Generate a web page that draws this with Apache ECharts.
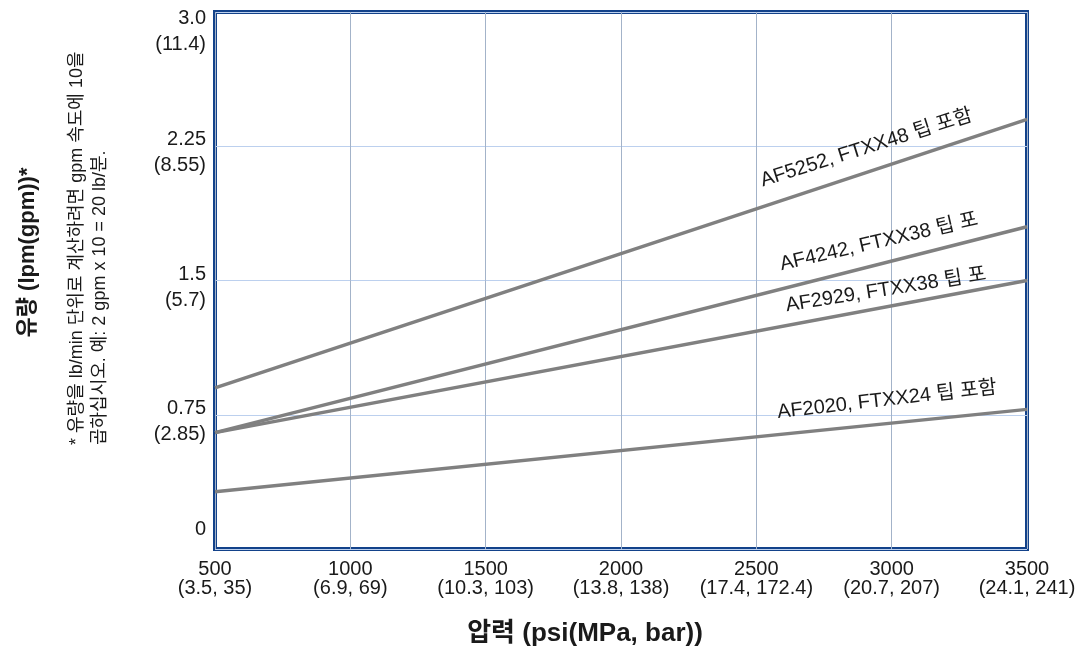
<!DOCTYPE html>
<html>
<head>
<meta charset="utf-8">
<script src="https://cdn.jsdelivr.net/npm/echarts@6/dist/echarts.min.js"></script>
<style>
html,body{margin:0;padding:0;background:#fff;}
#chart{width:1076px;height:652px;}
</style>
</head>
<body>
<div id="chart"></div>
<script>
// ---- data ----
const pressurePsi = [500, 3500];
const seriesNames = ['AF5252, FTXX48 팁 포함', 'AF4242, FTXX38 팁 포', 'AF2929, FTXX38 팁 포', 'AF2020, FTXX24 팁 포함'];
const af5252 = [0.90, 2.40];
const af4242 = [0.65, 1.80];
const af2929 = [0.65, 1.50];
const af2020 = [0.32, 0.78];
const xTickValues = [500, 1000, 1500, 2000, 2500, 3000, 3500];
const xTickSub = ['(3.5, 35)', '(6.9, 69)', '(10.3, 103)', '(13.8, 138)', '(17.4, 172.4)', '(20.7, 207)', '(24.1, 241)'];
const yTickValues = [0, 0.75, 1.5, 2.25, 3.0];
const yTickMain = ['0', '0.75', '1.5', '2.25', '3.0'];
const yTickSub = ['', '(2.85)', '(5.7)', '(8.55)', '(11.4)'];
const xTitle = '압력 (psi(MPa, bar))';
const yTitle = '유량 (lpm(gpm))*';
const footnote = '* 유량을 lb/min 단위로 계산하려면 gpm 속도에 10을\n곱하십시오. 예: 2 gpm x 10 = 20 lb/분.';

// ---- chart ----
const FONT = "'Liberation Sans', 'Noto Sans CJK KR', sans-serif";
const TXT = '#1a1a1a';
const chart = echarts.init(document.getElementById('chart'), null, {renderer: 'canvas'});

const allSeries = [af5252, af4242, af2929, af2020];
// label anchor placement (x in psi, y in gpm) and rotation per line
const labelPlace = [
  {x: 2907, y: 2.24, rot: 17.5},
  {x: 2953, y: 1.715, rot: 13},
  {x: 2979, y: 1.447, rot: 9},
  {x: 2983, y: 0.832, rot: 6.5}
];

const option = {
  animation: false,
  backgroundColor: '#ffffff',
  grid: {left: 215, right: 49, top: 12, bottom: 103, show: true, borderColor: '#13428a', borderWidth: 4,
    backgroundColor: 'transparent', containLabel: false, outerBoundsMode: 'none'},
  xAxis: {
    type: 'value', min: 500, max: 3500, interval: 500,
    axisLine: {show: false}, axisTick: {show: false},
    splitLine: {show: true, lineStyle: {color: '#a3b3c9', width: 1}},
    axisLabel: {
      margin: 11, fontSize: 20, lineHeight: 19, fontFamily: FONT, color: TXT,
      formatter: function (v) { const i = xTickValues.indexOf(v); return v + '\n' + xTickSub[i]; }
    },
    name: xTitle, nameLocation: 'middle', nameGap: 72,
    nameTextStyle: {fontSize: 26, fontWeight: 'bold', fontFamily: FONT, color: TXT, padding: [0, 72, 0, 0]}
  },
  yAxis: {
    type: 'value', min: 0, max: 3.0, interval: 0.75,
    axisLine: {show: false}, axisTick: {show: false},
    splitLine: {show: true, lineStyle: {color: '#bcd0ee', width: 1}},
    axisLabel: {
      margin: 9, align: 'right', verticalAlign: 'middle', fontSize: 20, lineHeight: 13, fontFamily: FONT, color: TXT,
      formatter: function (v) {
        const i = Math.round(v / 0.75);
        if (i === 0) return yTickMain[0] + '\n\n\n';
        if (i === 4) return '\n\n\n' + yTickMain[i] + '\n\n' + yTickSub[i];
        return '\n\n' + yTickMain[i] + '\n\n' + yTickSub[i] + '\n';
      }
    },
    name: yTitle, nameLocation: 'middle', nameGap: 176, nameRotate: 90,
    nameTextStyle: {fontSize: 22, fontWeight: 'bold', fontFamily: FONT, color: TXT, padding: [0, 0, 0, 56]}
  },
  graphic: [{
    type: 'text', x: 89, y: 445, rotation: Math.PI / 2, silent: true,
    style: {text: footnote, font: '18px ' + FONT, fill: TXT, textAlign: 'left', textVerticalAlign: 'middle', lineHeight: 23}
  }],
  series: allSeries.map(function (vals, k) {
    return {
      type: 'line', name: seriesNames[k],
      data: pressurePsi.map(function (x, j) { return [x, vals[j]]; }),
      showSymbol: false, symbol: 'none',
      lineStyle: {color: '#808080', width: 3.5},
      itemStyle: {color: '#808080'},
      markPoint: {
        symbol: 'circle', symbolSize: 1, silent: true,
        itemStyle: {color: 'rgba(0,0,0,0)'},
        label: {show: true, position: 'inside', rotate: labelPlace[k].rot, fontSize: 20, fontFamily: FONT, color: TXT,
          formatter: seriesNames[k]},
        data: [{coord: [labelPlace[k].x, labelPlace[k].y]}]
      }
    };
  })
};
chart.setOption(option);
</script>
</body>
</html>
